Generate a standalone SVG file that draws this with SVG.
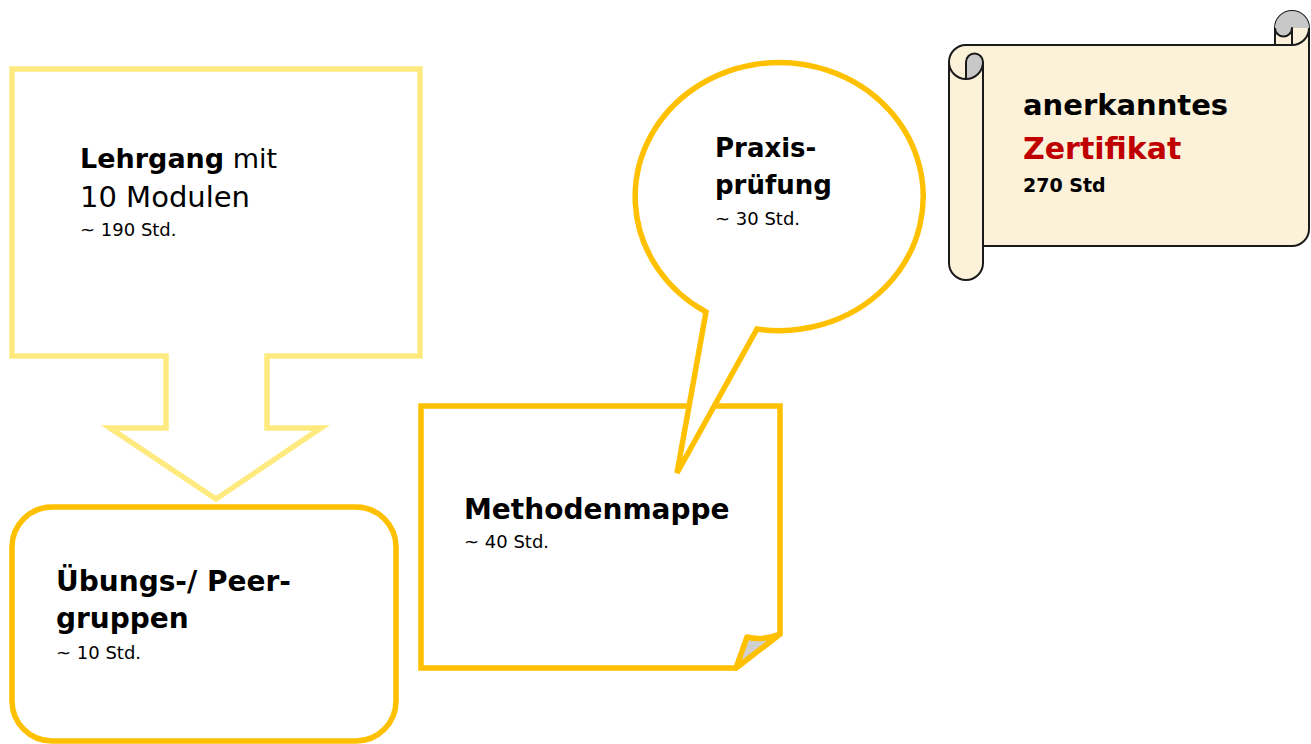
<svg xmlns="http://www.w3.org/2000/svg" width="1311" height="744" viewBox="0 0 1311 744">
<style>
.light{fill:#FFFFFF;stroke:#FFEA80;stroke-width:5.5;stroke-linejoin:miter}
.gold{fill:#FFFFFF;stroke:#FFC000;stroke-width:5.5;stroke-linejoin:miter}
.b{font-family:"DejaVu Sans",sans-serif;font-weight:bold;fill:#000}
.r{font-family:"DejaVu Sans",sans-serif;font-weight:normal;fill:#000}
.parch{fill:#FCF1D9;stroke:#1A1A1A;stroke-width:2;stroke-linejoin:round}
.curl{fill:#C8C8C8;stroke:none}
.ln{fill:none;stroke:#1A1A1A;stroke-width:2;stroke-linejoin:round}
</style>
<rect width="1311" height="744" fill="#FFFFFF"/>
<g id="connectors"></g>

<g id="node-uebungen">
<rect class="gold" x="12" y="507" width="384" height="234" rx="40" ry="40"/>
<text class="b" x="56" y="591" font-size="28">Übungs-/ Peer-</text>
<text class="b" x="56" y="628" font-size="28">gruppen</text>
<text class="r" x="56" y="659" font-size="18">~ 10 Std.</text>
</g>

<g id="node-lehrgang">
<path class="light" d="M12,69 H420 V356 H267 V428 H321 L216,499 L110,428 H166 V356 H12 Z"/>
<text x="80" y="168" font-size="27"><tspan class="b">Lehrgang</tspan><tspan class="r"> mit</tspan></text>
<text class="r" x="80" y="207" font-size="29">10 Modulen</text>
<text class="r" x="80" y="236" font-size="18">~ 190 Std.</text>
</g>

<g id="node-methodenmappe">
<path class="gold" d="M421,406 H780 V634 L736,668 H421 Z"/>
<path d="M736,668 L747,637 C758,640 770,638 780,634 Z" fill="#D0D0D0" stroke="#FFC000" stroke-width="5.5" stroke-linejoin="round"/>
<text class="b" x="464" y="519" font-size="28">Methodenmappe</text>
<text class="r" x="464" y="548" font-size="18">~ 40 Std.</text>
</g>

<g id="node-praxis">
<path class="gold" d="M757,329 A144,134 0 1 0 706,312 L677,473 Z"/>
<text class="b" x="715" y="157" font-size="26">Praxis-</text>
<text class="b" x="715" y="194" font-size="26">prüfung</text>
<text class="r" x="715" y="225" font-size="18">~ 30 Std.</text>
</g>

<g id="node-zertifikat">
<path class="parch" d="M949,62 A17,17 0 0 1 966,45 L1275,45 L1275,28 A17,17 0 0 1 1309,28 L1309,229 A17,17 0 0 1 1292,246 L983,246 L983,263 A17,17 0 0 1 949,263 Z"/>
<path class="curl" d="M966,79 A17,17 0 0 0 983,62 A8.5,8.5 0 0 0 966,62 Z"/>
<path class="curl" d="M1275,28 A17,17 0 0 1 1309,28 L1292,28 A8.5,8.5 0 0 1 1275,28 Z"/>
<path class="ln" d="M1275,45 L1292,45 A17,17 0 0 0 1309,28 M1292,45 L1292,28 A8.5,8.5 0 0 1 1275,28 M966,79 L966,62 A8.5,8.5 0 0 1 983,62 A17,17 0 0 1 949,62 M983,62 L983,246"/>
<text class="b" x="1023" y="115" font-size="29">anerkanntes</text>
<text class="b" x="1023" y="159" font-size="30" style="fill:#C00000">Zertifikat</text>
<text class="b" x="1023" y="192" font-size="19">270 Std</text>
</g>
</svg>
